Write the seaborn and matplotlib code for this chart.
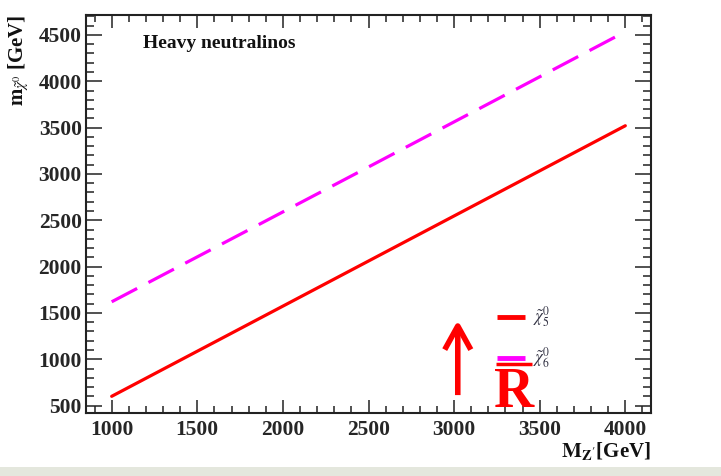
import matplotlib
matplotlib.use("Agg")
import matplotlib.pyplot as plt
import pandas as pd
import seaborn as sns
from matplotlib.patches import Rectangle
from matplotlib.ticker import MultipleLocator

# values
mass_zprime = [1000, 2500, 4000]
chi5_mass = [600, 2060, 3520]
chi6_mass = [1620, 3075, 4535]
series_names = ["chi5", "chi6"]
series_colors = {"chi5": "#ff0000", "chi6": "#ff00ff"}
series_labels = {"chi5": r"$\tilde{\chi}^0_5$", "chi6": r"$\tilde{\chi}^0_6$"}

df = pd.DataFrame({
    "MZ": mass_zprime * 2,
    "m": chi5_mass + chi6_mass,
    "state": ["chi5"] * len(mass_zprime) + ["chi6"] * len(mass_zprime),
})

sns.set_theme(style="ticks")
plt.rcParams["font.family"] = ["Liberation Serif", "DejaVu Serif"]
plt.rcParams["mathtext.fontset"] = "stix"

fig = plt.figure(figsize=(7.21, 4.76), dpi=100, facecolor="white")
ax = fig.add_axes([86 / 721, 1 - 413 / 476, 565 / 721, 398 / 476])

sns.lineplot(data=df, x="MZ", y="m", hue="state", style="state",
             palette=series_colors, dashes={"chi5": "", "chi6": (9, 4)},
             linewidth=2.3, legend=False, ax=ax)

ax.set_xlim(850, 4150)
ax.set_ylim(420, 4715)
ax.xaxis.set_major_locator(MultipleLocator(500))
ax.xaxis.set_minor_locator(MultipleLocator(100))
ax.yaxis.set_major_locator(MultipleLocator(500))
ax.yaxis.set_minor_locator(MultipleLocator(100))
ax.tick_params(which="both", direction="in", top=True, right=True, width=1.1, color="#222222")
ax.tick_params(axis="y", which="major", length=11.5)
ax.tick_params(axis="y", which="minor", length=5.8)
ax.tick_params(axis="x", which="major", length=9.5)
ax.tick_params(axis="x", which="minor", length=5)
ax.tick_params(axis="x", labelsize=15.5, pad=5)
ax.tick_params(axis="y", labelsize=15.5, pad=3)
for lab in ax.get_xticklabels() + ax.get_yticklabels():
    lab.set_fontweight("bold")
for sp in ax.spines.values():
    sp.set_visible(True)
    sp.set_linewidth(1.5)
    sp.set_color("#222222")
ax.set_xlabel("")
ax.set_ylabel("")

ax.text(0.101, 0.917, "Heavy neutralinos", transform=ax.transAxes,
        fontsize=14, fontweight="bold", color="#111111")

# legend drawn by hand, as in the reference
for name, ypos in zip(series_names, [0.241, 0.138]):
    ax.plot([0.727, 0.777], [ypos, ypos], transform=ax.transAxes,
            color=series_colors[name], lw=3.5, solid_capstyle="butt")
    ax.text(0.792, ypos, series_labels[name], transform=ax.transAxes,
            fontsize=12, va="center", ha="left", color="#333344")

# red arrow and barred R annotation
ax.annotate("", xy=(0.658, 0.233), xytext=(0.658, 0.045), xycoords="axes fraction",
            arrowprops=dict(arrowstyle="->,head_width=0.47,head_length=0.85",
                            mutation_scale=20, color="#ff0000", lw=4,
                            shrinkA=0, shrinkB=0, capstyle="butt"))
ax.text(0.758, 0.015, "R", transform=ax.transAxes, fontsize=40,
        fontweight="bold", color="#ff0000", ha="center", va="baseline")
ax.plot([0.726, 0.79], [0.122, 0.122], transform=ax.transAxes,
        color="#ff0000", lw=2.5, solid_capstyle="butt")

fig.text(0.903, 1 - 440 / 476, r"$\mathbf{M_{Z'}}$[GeV]", ha="right", va="top",
         fontsize=15, fontweight="bold", color="#111111")
fig.text(0.026, 1 - 15 / 476, r"$\mathbf{m}_{\tilde{\chi}^0}$ [GeV]", rotation=90,
         ha="center", va="top", fontsize=15, fontweight="bold", color="#111111")

# light grey band at the bottom of the screenshot
fig.add_artist(Rectangle((0, 0), 1, 9 / 476, transform=fig.transFigure,
                         facecolor="#e4e7dd", edgecolor="none"))

fig.savefig("out.png", dpi=100, facecolor="white")
